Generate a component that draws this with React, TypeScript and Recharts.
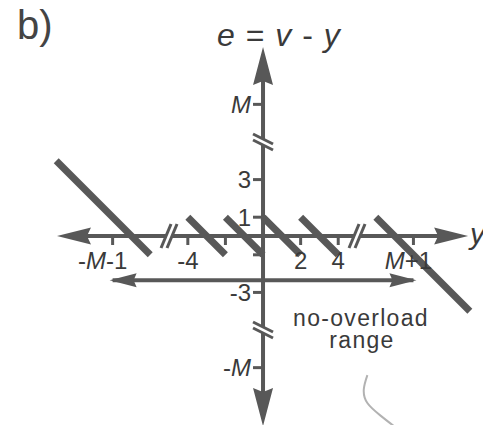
import React from 'react';
import { ComposedChart, Line, XAxis, YAxis } from 'recharts';

const WIDTH = 483;
const HEIGHT = 425;

// Quantizer error e = v - y: output level v held over the input interval [from, to]
const levels = [-7, -3, -1, 1, 3, 7];
const segFrom = [-11, -4, -2, 0, 2, 6];
const segTo = [-6, -2, 0, 2, 4, 11];

// Ticks on the input (y) axis and on the error (e) axis
const yTicks = [-8, -4, -2, 2, 4, 8];
const yTickLabels = ['-M-1', '-4', '', '2', '4', 'M+1'];
const eTicks = [7, 3, 1, -1, -3, -7];
const eTickLabels = ['M', '3', '1', '', '-3', '-M'];

// Where each axis is broken
const yBreaks = [-5, 5];
const eBreaks = [5, -5];

// Axis shaft ends (the arrowheads sit just past them)
const yAxisEnds = [-10.48, 10.43];
const eAxisEnds = [9.57, -9.63];

// No-overload input range and the height of its double arrow
const rangeEnds = [-8, 8];
const rangeLevel = -2.35;

// Pen stroke under the range note
const penY = [5.55, 5.36, 5.55, 6.25, 6.95];
const penE = [-7.4, -8.15, -8.88, -9.55, -10.1];

const X_DOMAIN: [number, number] = [-13.99, 11.7];
const E_DOMAIN: [number, number] = [-10.05, 12.55];

const INK = '#585858';
const TEXT = '#3a3a3a';
const FONT = '"Liberation Sans", Arial, Helvetica, sans-serif';

type Pt = { x: number; e: number; label?: string };

const pts = (xs: number[], es: number[], labels?: string[]): Pt[] =>
  xs.map((x, i) => ({ x, e: es[i], label: labels ? labels[i] : undefined }));

// letters are set in italics, digits and signs upright
function mathText(s: string) {
  return s
    .split(/([A-Za-z]+)/)
    .filter((p) => p !== '')
    .map((p, i) =>
      /[A-Za-z]/.test(p) ? (
        <tspan key={i} fontStyle="italic">
          {p}
        </tspan>
      ) : (
        <tspan key={i}>{p}</tspan>
      )
    );
}

function arrowPoints(
  cx: number,
  cy: number,
  dx: number,
  dy: number,
  len: number,
  half: number,
  ext: number,
  notch: number
) {
  const tx = cx + dx * ext;
  const ty = cy + dy * ext;
  const bx = tx - dx * len;
  const by = ty - dy * len;
  const px = -dy;
  const py = dx;
  const nx = bx + dx * notch;
  const ny = by + dy * notch;
  return `${tx},${ty} ${bx + px * half},${by + py * half} ${nx},${ny} ${bx - px * half},${by - py * half}`;
}

const hAxisArrow = (p: any) => {
  const dir = p.index === 0 ? -1 : 1;
  return (
    <polygon key={`ha-${p.index}`} points={arrowPoints(p.cx, p.cy, dir, 0, 34, 8.5, 9, 4)} fill={INK} />
  );
};

const vAxisArrow = (p: any) => {
  const dir = p.index === 0 ? -1 : 1;
  return (
    <polygon key={`va-${p.index}`} points={arrowPoints(p.cx, p.cy, 0, dir, 38, 10, 9, 4)} fill={INK} />
  );
};

const rangeArrow = (p: any) => {
  const dir = p.index === 0 ? -1 : 1;
  return (
    <polygon key={`ra-${p.index}`} points={arrowPoints(p.cx, p.cy, dir, 0, 27, 7, 3, 3)} fill={INK} />
  );
};

const yTick = (p: any) => {
  const label: string = p.payload.label || '';
  // longer symbolic labels lean a little to the left of their tick
  const dx = label.length > 2 ? -(label.length - 2) * 5 : 0;
  return (
    <g key={`yt-${p.index}`}>
      <line x1={p.cx} y1={p.cy} x2={p.cx} y2={p.cy + 9} stroke={INK} strokeWidth={3} />
      {label ? (
        <text
          x={p.cx + dx}
          y={p.cy + 33}
          textAnchor="middle"
          fontFamily={FONT}
          fontSize={24}
          fill={TEXT}
        >
          {mathText(label)}
        </text>
      ) : null}
    </g>
  );
};

const eTick = (p: any) => (
  <g key={`et-${p.index}`}>
    <line x1={p.cx - 10} y1={p.cy} x2={p.cx} y2={p.cy} stroke={INK} strokeWidth={3} />
    {p.payload.label ? (
      <text
        x={p.cx - 12}
        y={p.cy + 8.5}
        textAnchor="end"
        fontFamily={FONT}
        fontSize={24}
        fill={TEXT}
      >
        {mathText(p.payload.label)}
      </text>
    ) : null}
  </g>
);

// double-slash break across the horizontal axis
const yBreak = (p: any) => {
  const { cx, cy } = p;
  return (
    <g key={`yb-${p.index}`}>
      <polygon
        points={`${cx - 8},${cy + 12} ${cx + 2},${cy - 12} ${cx + 8},${cy - 12} ${cx - 2},${cy + 12}`}
        fill="#ffffff"
      />
      <line x1={cx - 8} y1={cy + 12} x2={cx + 2} y2={cy - 12} stroke={INK} strokeWidth={3} />
      <line x1={cx - 2} y1={cy + 12} x2={cx + 8} y2={cy - 12} stroke={INK} strokeWidth={3} />
    </g>
  );
};

// double-slash break across the vertical axis
const eBreak = (p: any) => {
  const { cx, cy } = p;
  return (
    <g key={`eb-${p.index}`}>
      <polygon
        points={`${cx - 10},${cy - 8} ${cx + 10},${cy + 2} ${cx + 10},${cy + 8} ${cx - 10},${cy - 2}`}
        fill="#ffffff"
      />
      <line x1={cx - 10} y1={cy - 8} x2={cx + 10} y2={cy + 2} stroke={INK} strokeWidth={3} />
      <line x1={cx - 10} y1={cy - 2} x2={cx + 10} y2={cy + 8} stroke={INK} strokeWidth={3} />
    </g>
  );
};

const common = {
  isAnimationActive: false,
  activeDot: false,
  legendType: 'none' as const,
  dataKey: 'e',
};

export default function App() {
  const penData = pts(penY, penE);
  const hAxisData = pts(yAxisEnds, [0, 0]);
  const vAxisData = pts([0, 0], eAxisEnds);
  const yTickData = pts(yTicks, yTicks.map(() => 0), yTickLabels);
  const eTickData = pts(eTicks.map(() => 0), eTicks, eTickLabels);
  const rangeData = pts(rangeEnds, [rangeLevel, rangeLevel]);
  const yBreakData = pts(yBreaks, [0, 0]);
  const eBreakData = pts([0, 0], eBreaks);
  const segments = levels.map((v, i) => pts([segFrom[i], segTo[i]], [v - segFrom[i], v - segTo[i]]));

  return (
    <div style={{ position: 'absolute', left: 0, top: 0, width: WIDTH, height: HEIGHT, background: '#fff' }}>
      <ComposedChart width={WIDTH} height={HEIGHT} margin={{ top: 0, right: 0, bottom: 0, left: 0 }}>
        <XAxis type="number" dataKey="x" domain={X_DOMAIN} allowDataOverflow hide />
        <YAxis type="number" domain={E_DOMAIN} allowDataOverflow hide />

        <Line {...common} data={penData} type="natural" stroke="#b2b2b2" strokeWidth={2} dot={false} />

        <Line {...common} data={hAxisData} type="linear" stroke={INK} strokeWidth={4} dot={hAxisArrow} />
        <Line {...common} data={vAxisData} type="linear" stroke={INK} strokeWidth={4} dot={vAxisArrow} />

        <Line {...common} data={yTickData} type="linear" stroke="none" dot={yTick} />
        <Line {...common} data={eTickData} type="linear" stroke="none" dot={eTick} />

        <Line {...common} data={rangeData} type="linear" stroke={INK} strokeWidth={4} dot={rangeArrow} />

        <Line {...common} data={yBreakData} type="linear" stroke="none" dot={yBreak} />
        <Line {...common} data={eBreakData} type="linear" stroke="none" dot={eBreak} />

        {segments.map((seg, i) => (
          <Line
            key={`seg-${i}`}
            {...common}
            data={seg}
            type="linear"
            stroke={INK}
            strokeWidth={7}
            dot={false}
          />
        ))}
      </ComposedChart>

      <svg
        width={WIDTH}
        height={HEIGHT}
        style={{ position: 'absolute', left: 0, top: 0, pointerEvents: 'none' }}
      >
        <text x={17} y={39} fontFamily={FONT} fontSize={40} fill="#444">
          b)
        </text>
        <text
          x={217}
          y={46}
          fontFamily={FONT}
          fontSize={32}
          letterSpacing={1}
          fill={TEXT}
          style={{ whiteSpace: 'pre' }}
        >
          {mathText('e = v - y')}
        </text>
        <text x={470} y={244} fontFamily={FONT} fontSize={30} fontStyle="italic" fill={TEXT}>
          y
        </text>
        <text x={361} y={326} textAnchor="middle" fontFamily={FONT} fontSize={23} letterSpacing={1.3} fill={TEXT}>
          no-overload
        </text>
        <text x={362} y={348} textAnchor="middle" fontFamily={FONT} fontSize={23} letterSpacing={1.3} fill={TEXT}>
          range
        </text>
      </svg>
    </div>
  );
}
